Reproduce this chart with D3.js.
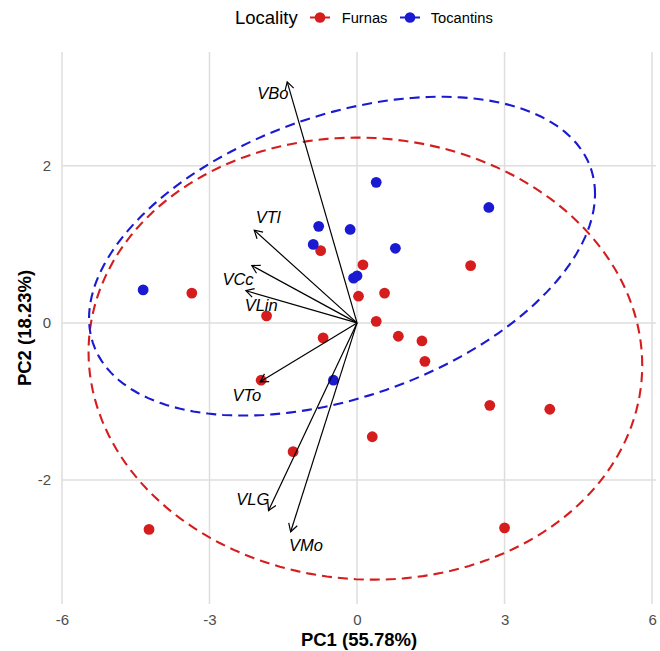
<!DOCTYPE html>
<html>
<head>
<meta charset="utf-8">
<script src="https://cdn.jsdelivr.net/npm/d3@7"></script>
<style>
  body { margin: 0; background: #fff; }
  text { font-family: "Liberation Sans", Arial, sans-serif; }
</style>
</head>
<body>
<script>
// PCA scores
const furnasX = [-3.36, -0.74, 0.12, 0.03, 0.56, -1.84, 0.39, -0.69, 0.84, 1.32, 1.38, -1.95, 2.31, -1.30, -4.23, 2.70, 3.92, 3.00, 0.31];
const furnasY = [0.38, 0.92, 0.74, 0.34, 0.38, 0.09, 0.02, -0.19, -0.17, -0.23, -0.49, -0.73, 0.73, -1.64, -2.63, -1.05, -1.10, -2.61, -1.45];
const tocantinsX = [-4.35, 0.39, -0.78, -0.14, -0.89, 0.78, -0.07, 0.00, -0.48, 2.68];
const tocantinsY = [0.42, 1.79, 1.23, 1.19, 1.00, 0.95, 0.57, 0.60, -0.73, 1.47];

// variable loadings (arrow tips) and their label spots
const loadingNames = ["VBo", "VTl", "VCc", "VLin", "VTo", "VLG", "VMo"];
const loadingX = [-1.42, -2.09, -2.14, -2.26, -1.97, -1.80, -1.35];
const loadingY = [3.07, 1.18, 0.73, 0.41, -0.75, -2.39, -2.66];
const labelX = [-1.71, -1.81, -2.42, -1.95, -2.24, -2.12, -1.04];
const labelY = [2.92, 1.34, 0.56, 0.22, -0.92, -2.24, -2.83];

// confidence ellipses: centre, half width, half height, correlation
const groups = ["Furnas", "Tocantins"];
const groupColors = ["#d61d1d", "#1a1ad2"];
const ellipseCX = [0.17, -0.305];
const ellipseCY = [-0.455, 0.85];
const ellipseW = [5.63, 5.145];
const ellipseH = [2.815, 2.03];
const ellipseR = [-0.03, 0.39];

const xTicks = [-6, -3, 0, 3, 6];
const yTicks = [-2, 0, 2];

const svgWidth = 660, svgHeight = 651;
const margin = {top: 52, right: 4, bottom: 47, left: 62};
const width = svgWidth - margin.left - margin.right;
const height = svgHeight - margin.top - margin.bottom;

const svg = d3.select("body").append("svg")
    .attr("width", svgWidth)
    .attr("height", svgHeight);

const g = svg.append("g")
    .attr("transform", `translate(${margin.left},${margin.top})`);

var x = d3.scaleLinear().domain([-6, 6.08]).range([0, width]);
var y = d3.scaleLinear().domain([-3.58, 3.45]).range([height, 0]);

// grid
g.selectAll(".vgrid")
    .data(xTicks)
    .enter().append("line")
    .attr("x1", d => x(d)).attr("x2", d => x(d))
    .attr("y1", 0).attr("y2", height)
    .attr("stroke", "#dedede").attr("stroke-width", 1.5);

g.selectAll(".hgrid")
    .data(yTicks)
    .enter().append("line")
    .attr("x1", 0).attr("x2", width)
    .attr("y1", d => y(d)).attr("y2", d => y(d))
    .attr("stroke", "#dedede").attr("stroke-width", 1.5);

// axes (labels only)
const xAxis = g.append("g")
    .attr("transform", `translate(0,${height})`)
    .call(d3.axisBottom(x).tickValues(xTicks).tickSize(0).tickPadding(10).tickFormat(d => String(d)));
xAxis.select(".domain").remove();
xAxis.selectAll("text")
    .style("font-family", "Liberation Sans, Arial, sans-serif")
    .style("font-size", "15px")
    .attr("fill", "#4d4d4d");

const yAxis = g.append("g")
    .call(d3.axisLeft(y).tickValues(yTicks).tickSize(0).tickPadding(11).tickFormat(d => String(d)));
yAxis.select(".domain").remove();
yAxis.selectAll("text")
    .style("font-family", "Liberation Sans, Arial, sans-serif")
    .style("font-size", "15px")
    .attr("fill", "#4d4d4d");

// ellipses
const steps = d3.range(0, 361, 2).map(a => a * Math.PI / 180);
const line = d3.line()
    .x(d => x(d[0]))
    .y(d => y(d[1]));

groups.forEach(function(name, i) {
    var pts = steps.map(function(t) {
        var ex = ellipseCX[i] + ellipseW[i] * Math.cos(t);
        var ey = ellipseCY[i] + ellipseH[i] * (ellipseR[i] * Math.cos(t) + Math.sqrt(1 - ellipseR[i] * ellipseR[i]) * Math.sin(t));
        return [ex, ey];
    });
    g.append("path")
        .datum(pts)
        .attr("d", line)
        .attr("fill", "none")
        .attr("stroke", groupColors[i])
        .attr("stroke-width", 2.1)
        .attr("stroke-dasharray", "10,6");
});

// points
const pointData = furnasX.map((v, i) => ({x: v, y: furnasY[i], grp: 0}))
    .concat(tocantinsX.map((v, i) => ({x: v, y: tocantinsY[i], grp: 1})));

g.selectAll(".pt")
    .data(pointData)
    .enter().append("circle")
    .attr("class", "pt")
    .attr("cx", d => x(d.x))
    .attr("cy", d => y(d.y))
    .attr("r", 5.4)
    .attr("fill", d => groupColors[d.grp]);

// loading arrows
loadingNames.forEach(function(name, i) {
    var x0 = x(0), y0 = y(0);
    var x1 = x(loadingX[i]), y1 = y(loadingY[i]);
    var ang = Math.atan2(y0 - y1, x0 - x1);
    var len = 9, spread = Math.PI / 6;
    g.append("line")
        .attr("x1", x0).attr("y1", y0)
        .attr("x2", x1).attr("y2", y1)
        .attr("stroke", "#000").attr("stroke-width", 1.2);
    g.append("path")
        .attr("d", `M${x1 + len * Math.cos(ang - spread)},${y1 + len * Math.sin(ang - spread)}L${x1},${y1}L${x1 + len * Math.cos(ang + spread)},${y1 + len * Math.sin(ang + spread)}`)
        .attr("fill", "none")
        .attr("stroke", "#000").attr("stroke-width", 1.2);
    g.append("text")
        .attr("x", x(labelX[i]))
        .attr("y", y(labelY[i]))
        .attr("dy", "0.35em")
        .attr("text-anchor", "middle")
        .style("font-size", "16.5px")
        .style("font-style", "italic")
        .text(name);
});

// axis titles
svg.append("text")
    .attr("x", margin.left + width / 2)
    .attr("y", 646)
    .attr("text-anchor", "middle")
    .style("font-size", "18.5px")
    .style("font-weight", "bold")
    .text("PC1 (55.78%)");

svg.append("text")
    .attr("transform", `translate(31,${margin.top + height / 2}) rotate(-90)`)
    .attr("text-anchor", "middle")
    .style("font-size", "18.5px")
    .style("font-weight", "bold")
    .text("PC2 (18.23%)");

// legend
const legend = svg.append("g").attr("transform", "translate(0,17.5)");
legend.append("text")
    .attr("x", 235).attr("dy", "0.35em")
    .style("font-size", "18.5px")
    .text("Locality");

const keyX = [310, 400];
const labelStart = [341.7, 430.7];
groups.forEach(function(name, i) {
    legend.append("line")
        .attr("x1", keyX[i]).attr("x2", keyX[i] + 20)
        .attr("stroke", groupColors[i]).attr("stroke-width", 1.8)
        .attr("stroke-dasharray", "8,6");
    legend.append("circle")
        .attr("cx", keyX[i] + 10).attr("r", 5.3)
        .attr("fill", groupColors[i]);
    legend.append("text")
        .attr("x", labelStart[i]).attr("dy", "0.35em")
        .style("font-size", "14.7px")
        .text(name);
});
</script>
</body>
</html>
